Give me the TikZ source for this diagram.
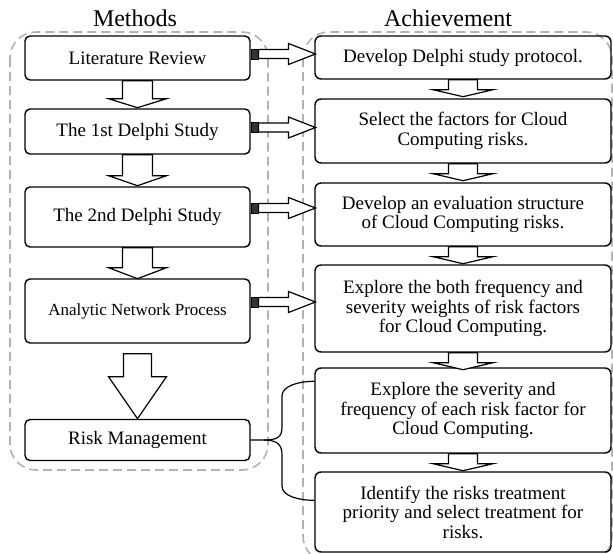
\documentclass[tikz,border=0pt]{standalone}
\usepackage{fontspec}
\setmainfont{Liberation Serif}
\usetikzlibrary{arrows.meta,positioning,calc}

\begin{document}
\begin{tikzpicture}[
  x=1pt, y=-1pt,
  font=\fontsize{19}{19.5}\selectfont,
  methodnode/.style={draw,rounded corners=5pt,line width=1.4pt,align=center,minimum width=225pt,inner sep=0pt},
  resultnode/.style={draw,rounded corners=6pt,line width=1.4pt,align=center,minimum width=296pt,inner sep=0pt},
  groupbox/.style={draw=gray!60,dash pattern=on 9pt off 5pt,line width=1.6pt,rounded corners=26pt},
  titlenode/.style={font=\fontsize{24}{26}\selectfont,inner sep=0pt},
  blockline/.style={draw,line width=1.2pt,fill=white,line join=miter},
  tailbox/.style={draw,fill=black!80,line width=0.8pt,minimum width=7pt,minimum height=10pt,inner sep=0pt},
  bracket/.style={line width=1.2pt},
  % half shaft / half head / shaft length / total length
  pics/blockdown/.style n args={4}{code={
    \path[blockline] (-#1,0) -- (-#1,#3) -- (-#2,#3) -- (0,#4) -- (#2,#3) -- (#1,#3) -- (#1,0) -- cycle;}},
  pics/blockright/.style n args={4}{code={
    \path[blockline] (0,-#1) -- (#3,-#1) -- (#3,-#2) -- (#4,0) -- (#3,#2) -- (#3,#1) -- (0,#1) -- cycle;}}
]
\useasboundingbox (0,0) rectangle (613,554);

% containers
\draw[groupbox] (10,32) rectangle (268,470);
\draw[groupbox] (303,32) rectangle (612,562);
\node[titlenode] (mtitle) at (135,18) {Methods};
\node[titlenode] (atitle) at (448,18) {Achievement};

% methods
\node[methodnode,minimum height=44pt] (lit) at (137.5,58) {Literature Review};
\node[methodnode,minimum height=45pt] (d1) at (137.5,131.5) {The 1st Delphi Study};
\node[methodnode,minimum height=60pt] (d2) at (137.5,217) {The 2nd Delphi Study};
\node[methodnode,minimum height=64pt,font=\fontsize{17}{18}\selectfont] (anp) at (137.5,311) {Analytic Network Process};
\node[methodnode,minimum height=41pt] (risk) at (137.5,440) {Risk Management};

% achievements
\node[resultnode,minimum height=43pt] (e1) at (463,57.5) {Develop Delphi study protocol.};
\node[resultnode,minimum height=64pt] (e2) at (463,131) {Select the factors for Cloud\\Computing risks.};
\node[resultnode,minimum height=63pt] (e3) at (463,214.5) {Develop an evaluation structure\\of Cloud Computing risks.};
\node[resultnode,minimum height=87pt] (e4) at (463,308.5) {Explore the both frequency and\\severity weights of risk factors\\for Cloud Computing.};
\node[resultnode,minimum height=85pt] (e5) at (463,410.5) {Explore the severity and\\frequency of each risk factor for\\Cloud Computing.};
\node[resultnode,minimum height=80pt] (e6) at (463,512) {Identify the risks treatment\\priority and select treatment for\\risks.};

% block arrows down
\pic (a1) at (lit.south) {blockdown={15}{29}{18}{27}};
\pic (a2) at (d1.south) {blockdown={15}{29}{21}{31}};
\pic (a3) at (d2.south) {blockdown={15}{29}{20}{31}};
\pic (a4) at ([yshift=-10pt]anp.south) {blockdown={14}{29}{23}{65}};

\foreach \up in {e1,e2,e3,e4,e5}
  \pic (r\up) at (\up.south) {blockdown={14.5}{30}{10}{17}};

% block arrows across
\foreach \src/\dy in {lit/4,d1/4,d2/9,anp/9}{
  \node[tailbox,anchor=west] (t\src) at ([yshift=\dy pt]\src.east) {};
  \pic (h\src) at (t\src.east) {blockright={4.5}{10.5}{30}{57}};
}

% risk management feeds the last two
\coordinate (fork) at ([xshift=13pt]risk.east);
\coordinate (in5) at ([yshift=-14pt]e5.north west);
\coordinate (in6) at ([yshift=-29pt]e6.north west);
\draw[bracket] (risk.east) -- (fork)
  .. controls +(14,0) and +(0,10) .. (282,427) -- (282,396)
  .. controls +(0,-10) and +(-16,0) .. (in5);
\draw[bracket] (fork)
  .. controls +(14,0) and +(0,-10) .. (282,455) -- (282,486)
  .. controls +(0,10) and +(-16,0) .. (in6);

\end{tikzpicture}
\end{document}
